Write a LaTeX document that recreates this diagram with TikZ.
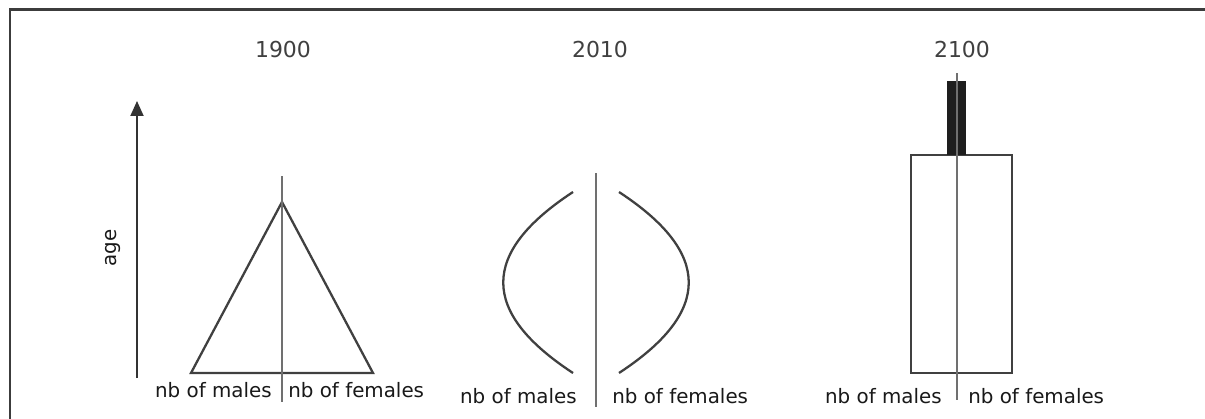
\documentclass[tikz,border=0pt]{standalone}
\usepackage{fontspec}
\setmainfont{DejaVu Sans}
\usetikzlibrary{arrows.meta,positioning}
\definecolor{framegray}{HTML}{3C3C3C}
\definecolor{inkgray}{HTML}{404040}
\definecolor{axisgray}{HTML}{707070}
\definecolor{bargray}{HTML}{1E1E1E}

\begin{document}
\begin{tikzpicture}[x=0.02cm, y=-0.02cm,
  year/.style={font=\fontsize{12.5}{14}\selectfont, text=black!75, inner sep=0pt, anchor=base},
  lbl/.style={font=\fontsize{11.3}{13}\selectfont, text=black!90, inner sep=0pt},
  axis/.style={axisgray, line width=0.85pt},
  outline/.style={inkgray, line width=1.3pt},
  arr/.style={-{Triangle[length=3mm, width=2.6mm]}, line width=1.1pt, black!80}
]
  \useasboundingbox (0,0) rectangle (1205,419);
  % frame
  \draw[framegray, line width=1.7pt] (10,419) -- (10,9.5) -- (1205,9.5);

  % age axis
  \coordinate (ageLow) at (137,378);
  \coordinate (ageHigh) at (137,101);
  \draw[arr] (ageLow) -- (ageHigh);
  \node[lbl, rotate=90] (age) at (113,248) {age};

  % 1900
  \node[year] (y1900) at (283,57) {1900};
  \draw[outline, line join=miter] (191,373) -- (282,202) -- (373,373) -- cycle;
  \draw[axis] (282,176) -- (282,402);
  \node[lbl, anchor=base east] (m1900) at (272,397) {nb of males};
  \node[lbl, anchor=base west] (f1900) at (288,397) {nb of females};

  % 2010
  \node[year] (y2010) at (600,57) {2010};
  \draw[outline] (573,192) .. controls (480,253) and (480,312) .. (573,373);
  \draw[outline] (619,192) .. controls (712,253) and (712,312) .. (619,373);
  \draw[axis] (596,173) -- (596,407);
  \node[lbl, anchor=base east] (m2010) at (577,403) {nb of males};
  \node[lbl, anchor=base west] (f2010) at (612,403) {nb of females};

  % 2100
  \node[year] (y2100) at (962,57) {2100};
  \draw[outline] (911,155) rectangle (1012,373);
  \fill[bargray] (947,81) rectangle (966,155);
  \draw[axis] (957,73) -- (957,400);
  \node[lbl, anchor=base east] (m2100) at (942,403) {nb of males};
  \node[lbl, anchor=base west] (f2100) at (968,403) {nb of females};
\end{tikzpicture}
\end{document}
